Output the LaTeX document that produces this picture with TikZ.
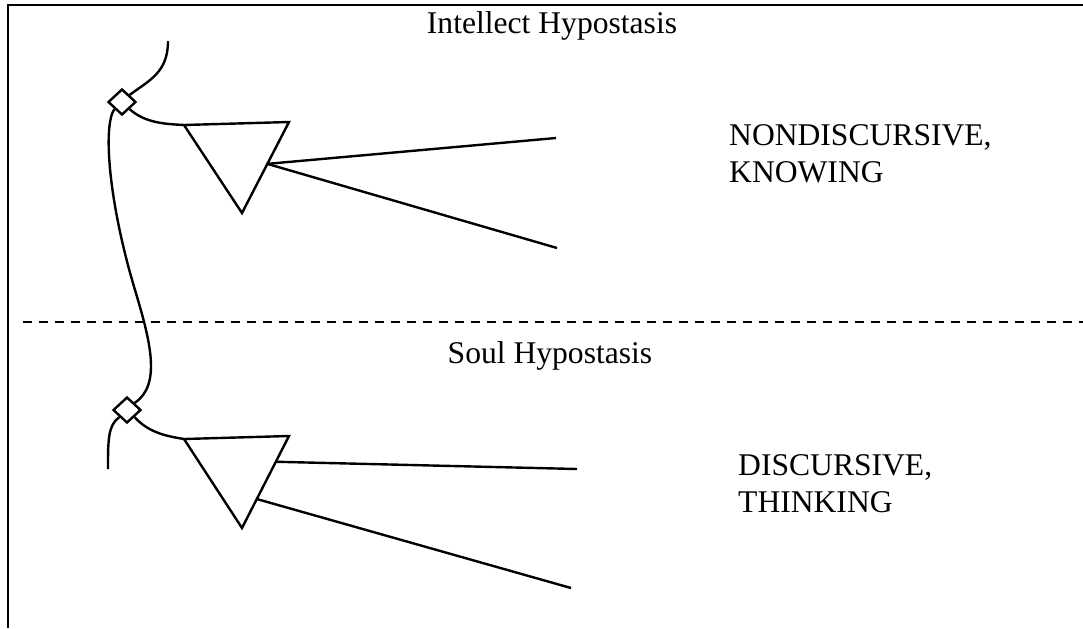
\documentclass[tikz,border=0pt]{standalone}
\usepackage{fontspec}
\setmainfont{Liberation Serif}
\usepackage{tikz}
\usetikzlibrary{positioning, calc, shapes.geometric}

\begin{document}
\begin{tikzpicture}[x=0.5pt, y=-0.5pt, line width=1.2pt,
    joint/.style={diamond, draw, fill=white, inner sep=0pt, minimum width=14pt, minimum height=13pt},
    lbl/.style={inner sep=0pt, font=\fontsize{15.8}{18.5}\selectfont}]
      \useasboundingbox (0,0) rectangle (1083,628);

      % frame
      \draw[line width=1.4pt] (1083,5) -- (8,5) -- (8,628);
      % border between the two hypostases
      \draw[dash pattern=on 4.5pt off 3.5pt] (23,322) -- (1083,322);

      \node[lbl, anchor=base] (intellect) at (552,33) {Intellect Hypostasis};
      \node[lbl, anchor=base] (soul) at (550,363) {Soul Hypostasis};
      \node[lbl, anchor=base west, align=left] (nondisc) at (728,182) {NONDISCURSIVE,\\KNOWING};
      \node[lbl, anchor=base west, align=left] (disc) at (737,512) {DISCURSIVE,\\THINKING};

      \coordinate (utop) at (168,41);
      \coordinate (mid) at (135,290);
      \coordinate (ubot) at (108,469);

      % upper triangle
      \coordinate (ta) at (184,125);
      \coordinate (tb) at (289,122);
      \coordinate (tc) at (242,213);
      \coordinate (tray) at ($(tb)!0.46!(tc)$);
      \coordinate (tend1) at (556,138);
      \coordinate (tend2) at (557,248);

      % lower triangle
      \coordinate (ba) at (184,439);
      \coordinate (bb) at (289,436);
      \coordinate (bc) at (242,528);
      \coordinate (bray1) at ($(bb)!0.28!(bc)$);
      \coordinate (bray2) at ($(bb)!0.685!(bc)$);
      \coordinate (bend1) at (577,469);
      \coordinate (bend2) at (571,588);

      \node[joint] (dia1) at (122,102) {};
      \node[joint] (dia2) at (127,410) {};

      \draw (utop) .. controls (168,72) and (150,80) .. (dia1.north east);
      \draw (dia1.south east) .. controls (145,123) and (165,124) .. (ta);
      \draw (dia1.south west) .. controls (103,125) and (108,200) .. (mid)
                              .. controls (150,340) and (162,385) .. (dia2.north east);
      \draw (dia2.south west) .. controls (108,425) and (108,440) .. (ubot);
      \draw (dia2.south east) .. controls (148,432) and (165,436) .. (ba);

      \draw (ta) -- (tb) -- (tc) -- cycle;
      \draw (ba) -- (bb) -- (bc) -- cycle;

      \draw (tray) -- (tend1);
      \draw (tray) -- (tend2);
      \draw (bray1) -- (bend1);
      \draw (bray2) -- (bend2);
    \end{tikzpicture}
\end{document}
